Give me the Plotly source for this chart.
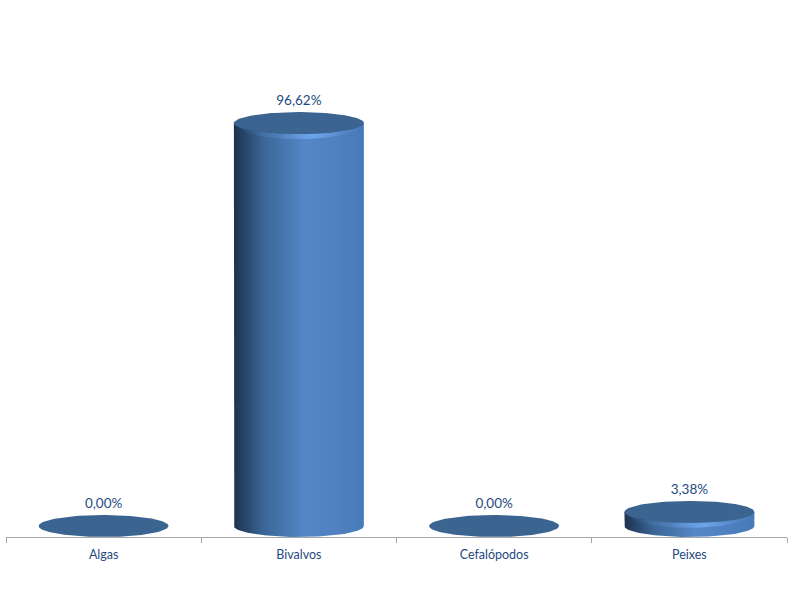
import numpy as np
import plotly.graph_objects as go

categories = ["Algas", "Bivalvos", "Cefalópodos", "Peixes"]
values = [0.00, 96.62, 0.00, 3.38]
labels = ["0,00%", "96,62%", "0,00%", "3,38%"]

PX_X = 195.33
PX_Y = 4.17
RX = 65 / PX_X
RY = 11 / PX_Y
PLOT_H = 516
TOP = PLOT_H / PX_Y - RY
BOTTOM = -RY

SIDE = [[0, "#1c324e"], [0.22, "#3a6595"], [0.55, "#5587c8"], [0.8, "#4f80bf"], [1, "#457bb8"]]
RIM = [[0, "rgba(110,165,235,0)"], [0.35, "rgba(110,165,235,0.25)"], [0.62, "rgba(115,170,240,0.85)"],
       [0.85, "rgba(110,165,235,0.2)"], [1, "rgba(110,165,235,0)"]]
CAP = "#3c6491"
TEXT = "#254a80"

t = np.linspace(0, np.pi, 60)
fig = go.Figure()

for i, v in enumerate(values):
    if v > 0:
        xs = np.concatenate([[i - RX], i - RX * np.cos(t), [i + RX], i + RX * np.cos(t)])
        ys = np.concatenate([[v], -RY * np.sin(t), [v], v + 0 * t])
        fig.add_trace(go.Scatter(
            x=xs, y=ys, mode="lines", line=dict(width=0), fill="toself",
            fillgradient=dict(type="horizontal", colorscale=SIDE),
            hoverinfo="skip", showlegend=False))
        band = 5 / PX_Y
        xr = np.concatenate([i - RX * np.cos(t), i + RX * np.cos(t)])
        yr = np.concatenate([v - RY * np.sin(t) - band * np.sin(t), v - RY * np.sin(t)])
        fig.add_trace(go.Scatter(
            x=xr, y=yr, mode="lines", line=dict(width=0), fill="toself",
            fillgradient=dict(type="horizontal", colorscale=RIM),
            hoverinfo="skip", showlegend=False))
    a = np.linspace(0, 2 * np.pi, 120)
    fig.add_trace(go.Scatter(
        x=i + RX * np.cos(a), y=v + RY * np.sin(a), mode="lines",
        line=dict(width=0), fill="toself", fillcolor=CAP,
        hoverinfo="skip", showlegend=False))

fig.add_trace(go.Scatter(
    x=list(range(len(categories))),
    y=[v + RY + 0.8 for v in values],
    mode="text", text=labels, textposition="top center",
    textfont=dict(family="Lato, Carlito, sans-serif", size=13.5, color=TEXT),
    hoverinfo="skip", showlegend=False))

boundaries = [i - 0.5 for i in range(len(categories) + 1)]

fig.update_layout(
    width=800, height=600,
    margin=dict(l=5.7, r=13, t=21, b=63),
    paper_bgcolor="white", plot_bgcolor="white",
    showlegend=False,
    xaxis=dict(
        range=[-0.5, 3.5],
        showgrid=False, zeroline=False, showline=True,
        linecolor="#a6a6a6", linewidth=1,
        tickmode="array",
        tickvals=list(range(len(categories))),
        ticktext=categories,
        ticks="", ticklabelstandoff=6,
        tickfont=dict(family="Lato, Carlito, sans-serif", size=12.5, color=TEXT),
        minor=dict(tickmode="array", tickvals=boundaries, ticks="outside",
                   ticklen=5, tickwidth=1, tickcolor="#a6a6a6", showgrid=False),
    ),
    yaxis=dict(range=[BOTTOM, TOP], visible=False),
)

fig.write_html("out.html", config={"displayModeBar": False},
               post_script="document.body.style.margin='0';")
